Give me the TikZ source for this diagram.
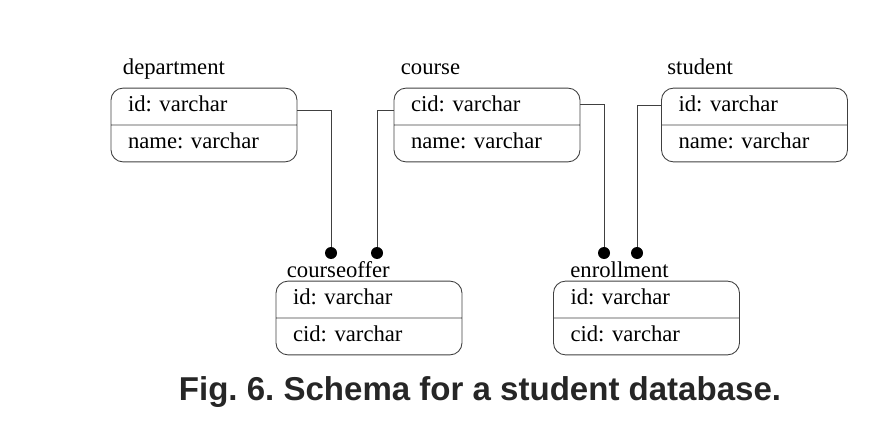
\documentclass[tikz,border=0pt]{standalone}
\usepackage{fontspec}
\setmainfont{Liberation Serif}
\newfontfamily\captionfont{Liberation Sans}
\usetikzlibrary{positioning,shapes.multipart}
\frenchspacing
\newcommand{\fieldstrut}{\rule[-0.12cm]{0pt}{0.44cm}}
\tikzset{
  tablebox/.style={draw=black!75, line width=0.5pt, rectangle split, rectangle split parts=2, rounded corners=0.24cm, text width=3.04cm, inner xsep=0.34cm, inner ysep=0.14cm, align=left, font=\fontsize{12.9}{15}\selectfont},
  tablename/.style={anchor=base west, inner sep=0pt, font=\fontsize{12.9}{15}\selectfont},
  keydot/.style={circle, fill=black, inner sep=0pt, minimum size=0.24cm},
  reflink/.style={draw=black!75, line width=0.5pt},
  figcaption/.style={anchor=base, inner sep=0pt, text=black!85, font=\captionfont\bfseries\fontsize{18.8}{22}\selectfont}
}

\begin{document}
\begin{tikzpicture}
  \useasboundingbox (0,0) rectangle (17.88,8.4);
  % tables
  \node[tablebox] (department) at (4.08,5.90) {\fieldstrut id: varchar \nodepart{two}\fieldstrut name: varchar};
  \node[tablebox] (course) at (9.74,5.90) {\fieldstrut cid: varchar \nodepart{two}\fieldstrut name: varchar};
  \node[tablebox] (student) at (15.09,5.90) {\fieldstrut id: varchar \nodepart{two}\fieldstrut name: varchar};
  \node[tablebox] (courseoffer) at (7.38,2.04) {\fieldstrut id: varchar \nodepart{two}\fieldstrut cid: varchar};
  \node[tablebox] (enrollment) at (12.93,2.04) {\fieldstrut id: varchar \nodepart{two}\fieldstrut cid: varchar};
  % table names
  \node[tablename] (departmentname) at ([xshift=0.24cm, yshift=0.26cm]department.north west) {department};
  \node[tablename] (coursename) at ([xshift=0.14cm, yshift=0.26cm]course.north west) {course};
  \node[tablename] (studentname) at ([xshift=0.12cm, yshift=0.26cm]student.north west) {student};
  \node[tablename] (courseoffername) at ([xshift=0.22cm, yshift=0.07cm]courseoffer.north west) {courseoffer};
  \node[tablename] (enrollmentname) at ([xshift=0.34cm, yshift=0.07cm]enrollment.north west) {enrollment};
  % foreign key ends
  \node[keydot] (offerdept) at (6.62,3.34) {};
  \node[keydot] (offercourse) at (7.54,3.34) {};
  \node[keydot] (enrolcourse) at (12.08,3.34) {};
  \node[keydot] (enrolstudent) at (12.74,3.34) {};
  \draw[reflink] ([yshift=-0.46cm]department.north east) -| (offerdept.north);
  \draw[reflink] ([yshift=-0.46cm]course.north west) -| (offercourse.north);
  \draw[reflink] ([yshift=-0.34cm]course.north east) -| (enrolcourse.north);
  \draw[reflink] ([yshift=-0.36cm]student.north west) -| (enrolstudent.north);
  % caption
  \node[figcaption] (caption) at (9.60,0.40) {Fig. 6. Schema for a student database.};
\end{tikzpicture}
\end{document}
